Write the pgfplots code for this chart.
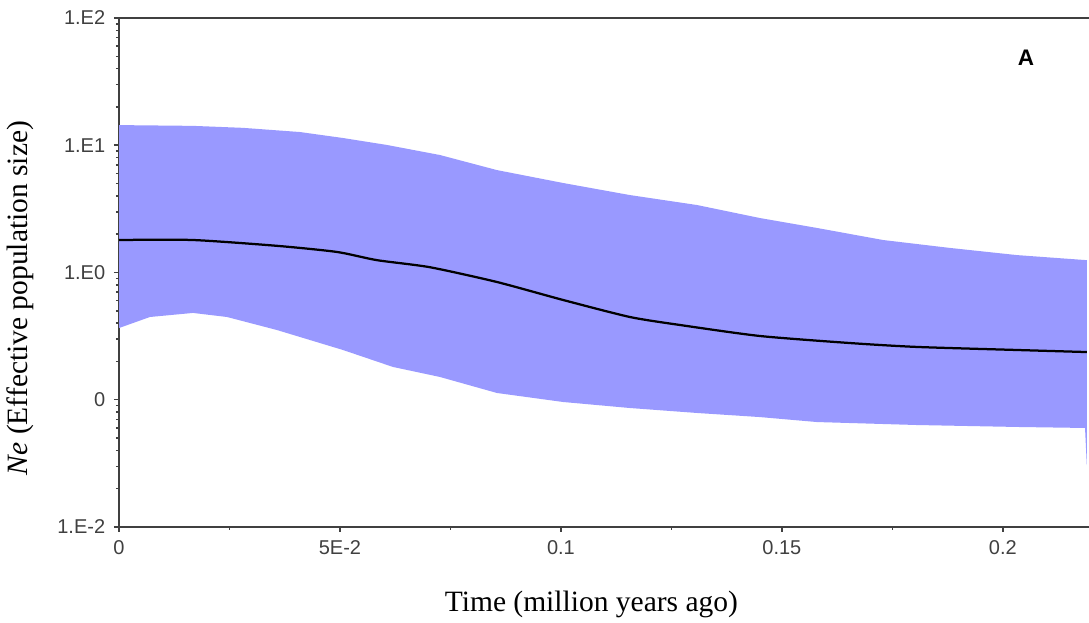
\documentclass[border=0pt]{standalone}
\usepackage{fontspec}
\setmainfont{Liberation Serif}
\newfontfamily\arial{Liberation Sans}
\usepackage{pgfplots}
\pgfplotsset{compat=1.18}
\usetikzlibrary{calc}

\definecolor{bandblue}{RGB}{153,153,255}
\definecolor{axisgray}{RGB}{64,64,64}

% 95% HPD band: upper edge left->right, then lower edge right->left
\pgfplotstableread{
x       y
0       14.4
0.01674 14.2
0.02805 13.7
0.04095 12.7
0.05068 11.4
0.06063 10.05
0.07262 8.38
0.08552 6.38
0.1005  5.05
0.1156  4.06
0.1308  3.39
0.1450  2.68
0.1579  2.24
0.1729  1.80
0.1880  1.56
0.2032  1.37
0.2190  1.25
0.2190  0.0307
0.2186  0.0600
0.2032  0.0611
0.1805  0.0633
0.1579  0.0668
0.1450  0.0731
0.1308  0.0787
0.1156  0.0861
0.1005  0.0960
0.08552 0.113
0.07262 0.151
0.06199 0.181
0.05068 0.246
0.03575 0.353
0.02443 0.447
0.01674 0.481
0.00701 0.447
0       0.366
}\band

% median
\pgfplotstableread{
x       y
0       1.80
0.01674 1.80
0.03575 1.62
0.04932 1.45
0.05837 1.25
0.07036 1.10
0.08552 0.842
0.1005  0.608
0.1156  0.447
0.1269  0.387
0.1450  0.317
0.1654  0.279
0.1805  0.260
0.2032  0.246
0.2190  0.237
}\median

\begin{document}
\begin{tikzpicture}
\begin{axis}[
    scale only axis,
    width=388pt, height=203.6pt,
    ymode=log,
    xmin=0, xmax=0.2195,
    ymin=0.01, ymax=100,
    axis lines=left,
    axis line style={-, axisgray, line width=0.8pt},
    tick align=outside,
    tick style={axisgray, line width=0.6pt},
    major tick length=2pt,
    minor tick length=1.2pt,
    xtick={0,0.05,0.1,0.15,0.2},
    xticklabels={0,5E-2,0.1,0.15,0.2},
    minor x tick num=1,
    ytick={0.01,0.1,1,10,100},
    yticklabels={1.E-2,0,1.E0,1.E1,1.E2},
    ticklabel style={font=\arial\fontsize{8}{9}\selectfont, text=axisgray},
    xlabel={Time (million years ago)},
    ylabel={\textit{Ne} (Effective population size)},
    label style={font=\fontsize{11.8}{13}\selectfont},
    xlabel style={at={(axis description cs:0.487,-0.153)}, anchor=center},
    ylabel style={at={(axis description cs:-0.102,0.45)}, anchor=center},
    clip=false,
]
\addplot[fill=bandblue, draw=none] table {\band};
\addplot[black, line width=0.9pt, smooth, tension=0.4] table {\median};
\draw[axisgray, line width=0.8pt] (rel axis cs:0,1) -- (rel axis cs:1,1);
\node[font=\arial\bfseries\fontsize{9}{10}\selectfont] at (rel axis cs:0.935,0.921) {A};
\end{axis}
\pgfresetboundingbox
\path[use as bounding box] ($(current axis.south west)+(-47.6pt,-38.4pt)$) rectangle ($(current axis.north east)+(0pt,7.2pt)$);
\end{tikzpicture}
\end{document}
